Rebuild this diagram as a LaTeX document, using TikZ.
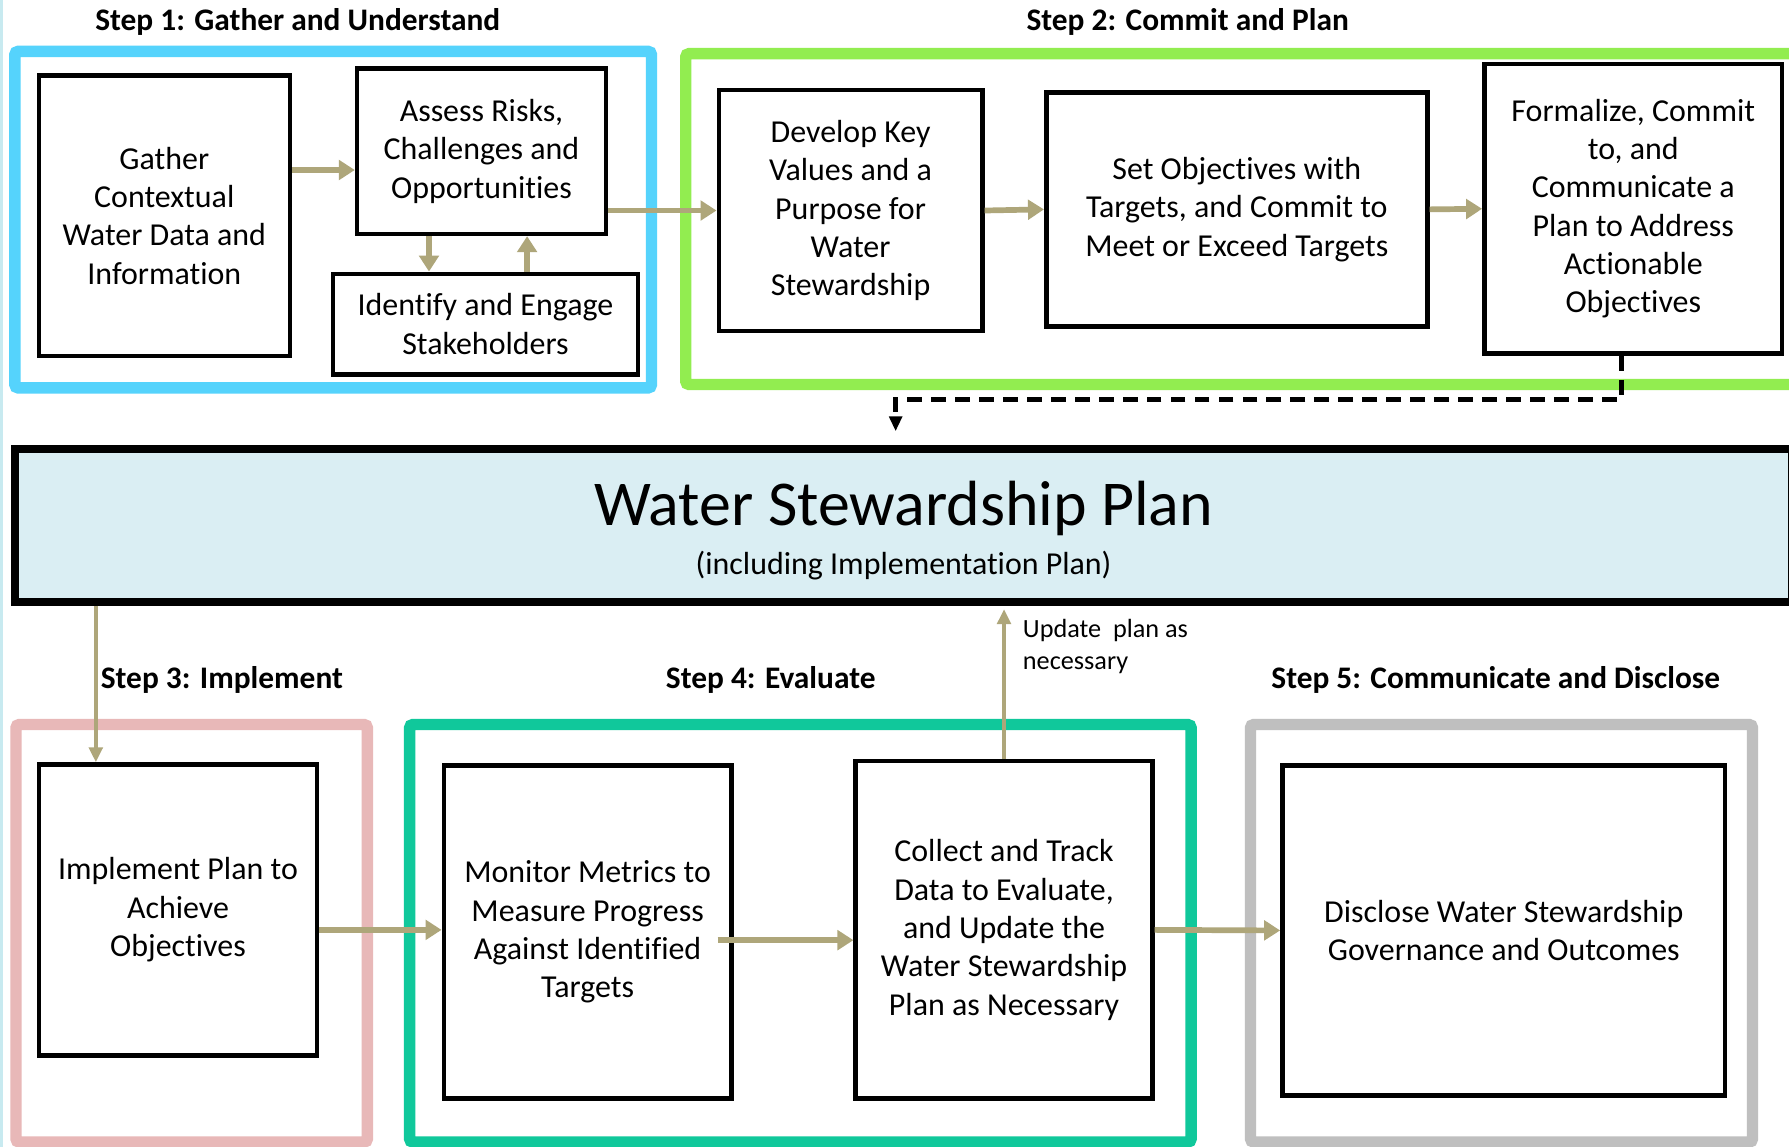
\documentclass[tikz,border=0pt]{standalone}
\usepackage{fontspec}
\setmainfont{Carlito}[Ligatures=NoCommon]
\usetikzlibrary{arrows.meta}
\definecolor{arrowtan}{RGB}{174,166,122}
\definecolor{stepblue}{RGB}{85,211,252}
\definecolor{stepgreen}{RGB}{146,237,80}
\definecolor{steppink}{RGB}{232,184,184}
\definecolor{stepteal}{RGB}{16,200,155}
\definecolor{stepgray}{RGB}{191,191,191}
\definecolor{planfill}{RGB}{218,238,243}
\definecolor{edgecyan}{RGB}{200,234,240}
\newcommand{\boxfont}{\fontsize{28}{33.6}\selectfont}
\newcommand{\steptitlefont}{\fontsize{27.5}{32}\selectfont\bfseries}
\newcommand{\notefont}{\fontsize{23}{28}\selectfont}
\tikzset{
  stepbox/.style={draw=black, line width=4pt, fill=white, align=center, font=\boxfont, inner sep=0pt},
  steptitle/.style={font=\steptitlefont},
  frame/.style={line width=10pt, rounded corners=3pt},
  flow/.style={draw=arrowtan, line width=5pt, -{Triangle[length=14pt,width=17pt]}},
  thinflow/.style={draw=arrowtan, line width=3pt, -{Triangle[length=13pt,width=12pt]}},
  dashflow/.style={draw=black, line width=4pt, dash pattern=on 13pt off 8pt, -{Triangle[length=13pt,width=11pt]}}
}

\begin{document}
\begin{tikzpicture}[x=1pt,y=-1pt]
\useasboundingbox (0,0) rectangle (1568,1005);
\clip (0,0) rectangle (1568,1005);
\fill[white] (0,0) rectangle (1568,1005);
\fill[edgecyan] (0,0) rectangle (3,1005);

\draw[frame, draw=stepblue] (13,45) rectangle (571,340);
\draw[frame, draw=stepgreen] (601,47) rectangle (1600,337);
\draw[frame, draw=steppink] (14,635) rectangle (322,1001);
\draw[frame, draw=stepteal] (359,635) rectangle (1044,1001);
\draw[frame, draw=stepgray] (1096,635) rectangle (1536,1001);

\node[steptitle] (step1) at (261,19) {Step 1: Gather and Understand};
\node[steptitle] (step2) at (1041,19) {Step 2: Commit and Plan};
\node[steptitle] (step3) at (194.5,596) {Step 3: Implement};
\node[steptitle] (step4) at (675.5,596) {Step 4: Evaluate};
\node[steptitle] (step5) at (1311,596) {Step 5: Communicate and Disclose};

\node[stepbox, minimum width=220pt, minimum height=246pt] (gather) at (144,189) {Gather\\Contextual\\Water Data and\\Information};
\node[stepbox, minimum width=218pt, minimum height=145pt] (assess) at (422,132.5) {Assess Risks,\\Challenges and\\Opportunities};
\node[stepbox, minimum width=267pt, minimum height=88pt] (identify) at (425.5,284) {Identify and Engage\\Stakeholders};
\node[stepbox, minimum width=231pt, minimum height=211pt] (develop) at (745.5,184.5) {Develop Key\\Values and a\\Purpose for\\Water\\Stewardship};
\node[stepbox, minimum width=334pt, minimum height=205pt] (setobj) at (1084,183.5) {Set Objectives with\\Targets, and Commit to\\Meet or Exceed Targets};
\node[stepbox, minimum width=261pt, minimum height=254pt] (formal) at (1431.5,183) {Formalize, Commit\\to, and\\Communicate a\\Plan to Address\\Actionable\\Objectives};

\node[draw=black, line width=7pt, fill=planfill, minimum width=1557pt, minimum height=134pt, inner sep=0pt] (plan) at (792,460.5) {};
\node[font=\fontsize{56}{64}\selectfont] (plantitle) at (792,446) {Water Stewardship Plan};
\node[font=\fontsize{28}{32}\selectfont] (plansub) at (792,496) {(including Implementation Plan)};

\node[stepbox, minimum width=244pt, minimum height=255pt] (implement) at (156,797.5) {Implement Plan to\\Achieve\\Objectives};
\node[stepbox, minimum width=252pt, minimum height=292pt] (monitor) at (515,817) {Monitor Metrics to\\Measure Progress\\Against Identified\\Targets};
\node[stepbox, minimum width=260pt, minimum height=296pt] (collect) at (880,815) {Collect and Track\\Data to Evaluate,\\and Update the\\Water Stewardship\\Plan as Necessary};
\node[stepbox, minimum width=388pt, minimum height=289pt] (disclose) at (1318,815.5) {Disclose Water Stewardship\\Governance and Outcomes};

\draw[flow] (gather.east |- 0,149) -- (assess.west |- 0,149);
\draw[flow] (assess.south -| 376,0) -- (identify.north -| 376,0);
\draw[flow] (identify.north -| 462,0) -- (assess.south -| 462,0);
\draw[flow] (assess.east |- develop.west) -- (develop.west);
\draw[flow] (develop.east) -- (setobj.west);
\draw[flow] (setobj.east) -- (formal.west);

\coordinate (dashturn) at (1421,350);
\coordinate (dashdrop) at (785,350);
\draw[dashflow] (formal.south -| dashturn) -- (dashturn) -- (dashdrop) -- ([yshift=12pt]plan.north -| dashdrop);

\draw[thinflow] (plan.south -| 84,0) -- (implement.north -| 84,0);
\draw[thinflow] (collect.north) -- ([yshift=-3pt]plan.south -| collect.north);
\node[anchor=west, align=left, font=\notefont] (updatenote) at (893,567) {Update\ \ plan as\\necessary};

\draw[flow] (implement.east |- 0,815) -- (monitor.west |- 0,815);
\draw[flow] ([xshift=-14pt]monitor.east |- 0,824) -- (collect.west |- 0,824);
\draw[flow] (collect.east) -- (disclose.west);
\end{tikzpicture}
\end{document}
